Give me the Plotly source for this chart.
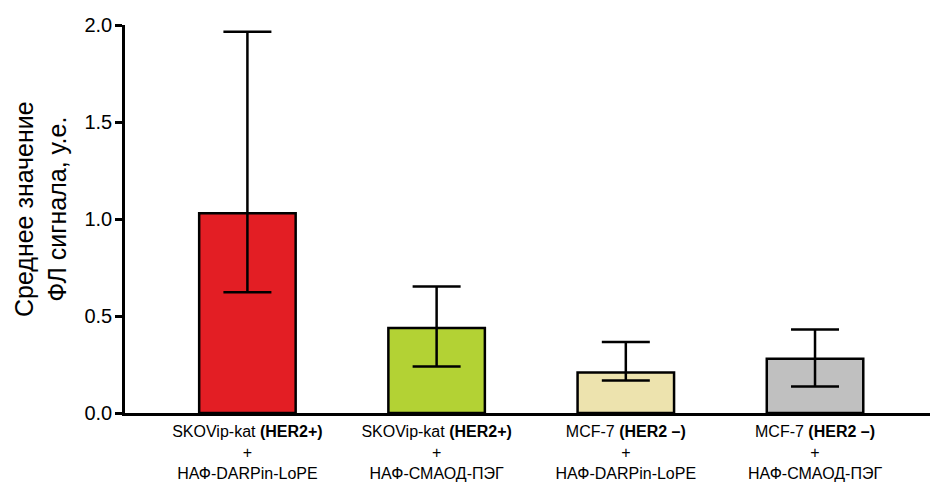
import plotly.graph_objects as go

categories = [
    "SKOVip-kat <b>(HER2+)</b><br>+<br>НАФ-DARPin-LoPE",
    "SKOVip-kat <b>(HER2+)</b><br>+<br>НАФ-СМАОД-ПЭГ",
    "MCF-7 <b>(HER2 –)</b><br>+<br>НАФ-DARPin-LoPE",
    "MCF-7 <b>(HER2 –)</b><br>+<br>НАФ-СМАОД-ПЭГ",
]
means = [1.03, 0.438, 0.209, 0.28]
err_plus = [0.935, 0.214, 0.157, 0.15]
err_minus = [0.407, 0.198, 0.041, 0.143]
colors = ["#E31E24", "#B3D234", "#EDE3AE", "#C0C0C0"]
y_ticks = [0.0, 0.5, 1.0, 1.5, 2.0]
y_title = "Среднее значение<br>ФЛ сигнала, у.е."

xpos = list(range(len(categories)))

W, H = 930, 474  # page body has an 8px margin
L, R, T, B = 117, 0, 17, 69
plot_w = W - L - R
plot_h = H - T - B

fig = go.Figure()
fig.add_trace(go.Bar(
    x=xpos, y=means, width=0.51,
    marker=dict(color=colors, line=dict(color="black", width=2.5)),
    error_y=dict(type="data", symmetric=False, array=err_plus, arrayminus=err_minus,
                 color="black", thickness=2.5, width=24),
))

fig.add_annotation(
    text=y_title, xref="paper", yref="paper",
    x=(32 - L) / plot_w, y=(T + plot_h - 201) / plot_h,
    xanchor="center", yanchor="middle", textangle=-90, showarrow=False,
    font=dict(size=25, color="black"), align="center",
)

fig.update_layout(
    width=W, height=H,
    margin=dict(l=L, r=R, t=T, b=B, autoexpand=False),
    plot_bgcolor="white", paper_bgcolor="white",
    showlegend=False,
    font=dict(family="Liberation Sans, Arial, sans-serif", color="black"),
    xaxis=dict(
        range=[-0.647, 3.65], tickmode="array", tickvals=xpos, ticktext=categories,
        showline=True, linecolor="black", linewidth=2.5,
        ticks="outside", ticklen=2, tickcolor="rgba(0,0,0,0)", showgrid=False,
        tickfont=dict(size=16), zeroline=False, automargin=False,
    ),
    yaxis=dict(
        range=[0, 2], tickmode="array", tickvals=y_ticks,
        ticktext=[f"{v:.1f}" for v in y_ticks],
        showline=True, linecolor="black", linewidth=2.5, ticks="outside",
        ticklen=7, tickwidth=2.5, tickcolor="black", showgrid=False, zeroline=False,
        tickfont=dict(size=20), automargin=False, ticklabelstandoff=-1,
    ),
)

fig.write_html("out.html")
